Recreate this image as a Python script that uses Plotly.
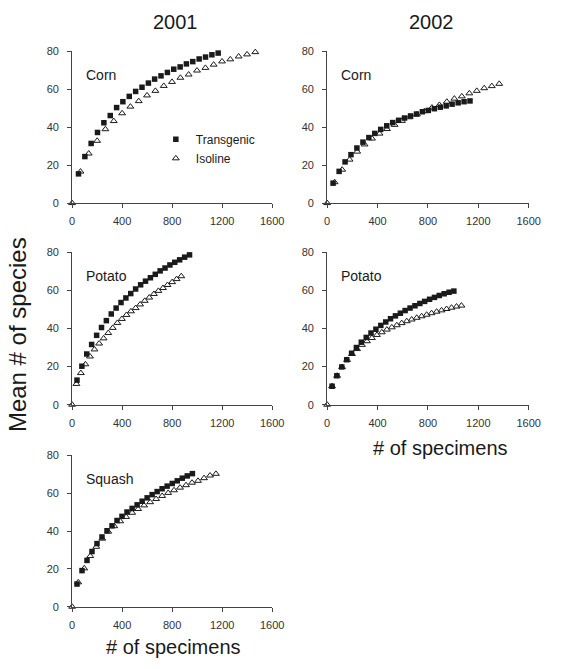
import plotly.graph_objects as go

# Species accumulation (rarefaction) curves: mean # of species vs # of specimens
# 2001: corn, potato, squash ; 2002: corn, potato

# --- 2001 Corn ---
corn01_tg_x = [51, 102, 152, 203, 254, 305, 356, 406, 457, 508, 559, 610, 660, 711,
               762, 813, 864, 914, 965, 1016, 1067, 1118, 1168, 1219]
corn01_tg_y = [15.4, 24.5, 31.4, 37.2, 42.3, 46.1, 50.3, 53.4, 56.2, 58.8, 61.0, 63.2,
               65.3, 67.0, 68.8, 70.5, 71.7, 73.3, 74.5, 75.9, 76.9, 78.1, 79.0, 80.2]
corn01_iso_x = [0, 67, 133, 200, 266, 333, 400, 466, 533, 599, 666, 733, 799, 866, 932,
                999, 1066, 1132, 1199, 1265, 1332, 1399, 1465]
corn01_iso_y = [0, 16.6, 26.1, 32.8, 38.9, 43.2, 47.3, 50.8, 53.7, 56.7, 59.1, 61.7, 63.8,
                66.0, 67.7, 69.8, 71.2, 72.9, 74.6, 75.7, 77.2, 78.3, 79.5]

# --- 2002 Corn ---
corn02_tg_x = [47, 95, 142, 189, 236, 284, 331, 378, 425, 473, 520, 567, 614, 662, 709,
               756, 803, 851, 898, 945, 992, 1040, 1087, 1134]
corn02_tg_y = [10.5, 16.7, 21.7, 25.5, 29.0, 32.1, 34.5, 36.7, 38.8, 40.7, 42.4, 43.6,
               44.8, 45.9, 46.9, 48.1, 48.8, 49.7, 50.5, 51.2, 52.1, 52.8, 53.4, 53.8]
corn02_iso_x = [0, 59, 119, 178, 238, 297, 356, 416, 475, 535, 594, 653, 713, 772, 832,
                891, 950, 1010, 1069, 1129, 1188, 1247, 1307, 1366]
corn02_iso_y = [0, 11.0, 17.6, 22.9, 27.1, 30.9, 34.0, 36.6, 39.0, 41.2, 43.3, 45.2, 46.7,
                48.4, 50.3, 51.7, 53.4, 55.0, 56.2, 57.8, 59.1, 60.5, 61.6, 62.8]

# --- 2001 Potato ---
pot01_tg_x = [39, 78, 117, 156, 196, 235, 274, 313, 352, 391, 430, 469, 508, 548, 587,
              626, 665, 704, 743, 782, 821, 860, 900, 939]
pot01_tg_y = [12.9, 20.2, 26.6, 31.6, 36.4, 40.5, 44.1, 47.6, 50.7, 53.6, 56.0, 58.3,
              60.7, 62.9, 64.8, 66.6, 68.4, 70.2, 71.7, 73.3, 74.7, 76.0, 77.4, 78.6]
pot01_iso_x = [0, 34, 70, 106, 143, 179, 216, 252, 289, 325, 362, 398, 435, 471, 508,
               544, 581, 617, 654, 690, 727, 763, 800, 836, 873]
pot01_iso_y = [0, 10.9, 16.6, 21.2, 25.3, 29.0, 32.1, 34.8, 37.6, 40.3, 42.9, 45.0, 47.1,
               49.0, 50.7, 52.6, 54.5, 56.2, 58.1, 59.7, 61.2, 62.8, 64.3, 65.9, 67.4]

# --- 2002 Potato ---
pot02_tg_x = [39, 77, 116, 155, 194, 232, 271, 310, 348, 387, 426, 465, 503, 542, 581,
              619, 658, 697, 736, 774, 813, 852, 890, 929, 968, 1006]
pot02_tg_y = [9.7, 15.2, 19.8, 23.6, 27.0, 30.0, 32.8, 35.3, 37.6, 39.6, 41.6, 43.4, 45.1,
              46.6, 48.0, 49.4, 50.7, 51.9, 53.1, 54.2, 55.3, 56.3, 57.3, 58.2, 59.0, 59.6]
pot02_iso_x = [0, 39, 79, 118, 158, 197, 237, 276, 316, 355, 395, 434, 474, 513, 553,
               592, 632, 671, 711, 750, 790, 829, 869, 908, 948, 987, 1027, 1066]
pot02_iso_y = [0, 9.7, 15.2, 19.8, 23.5, 26.6, 29.2, 31.4, 33.3, 35.0, 36.6, 38.0, 39.4,
               40.6, 41.7, 42.8, 43.8, 44.7, 45.6, 46.4, 47.2, 48.0, 48.8, 49.5, 50.2,
               50.9, 51.5, 52.0]

# --- 2001 Squash ---
sq01_tg_x = [39, 79, 119, 159, 199, 239, 279, 319, 359, 399, 439, 480, 520, 560, 600,
             640, 680, 720, 760, 801, 841, 881, 921, 962]
sq01_tg_y = [12.0, 19.1, 24.5, 29.2, 33.4, 36.9, 40.2, 42.8, 45.6, 47.8, 50.1, 52.0, 53.9,
             55.8, 57.6, 59.3, 60.9, 62.4, 63.8, 65.2, 66.6, 68.0, 69.2, 70.4]
sq01_iso_x = [0, 49, 97, 145, 193, 241, 289, 337, 385, 432, 480, 528, 576, 624, 672, 720,
              768, 815, 863, 911, 959, 1007, 1055, 1103, 1150]
sq01_iso_y = [0, 12.9, 20.3, 26.8, 31.7, 36.0, 39.7, 42.6, 45.2, 47.5, 49.7, 51.7, 53.6,
              55.3, 57.0, 58.6, 60.2, 61.6, 63.0, 64.3, 65.6, 66.6, 68.0, 69.4, 70.3]

x_ticks = [0, 400, 800, 1200, 1600]
y_ticks = [0, 20, 40, 60, 80]

W, H = 566, 669
FONT = "Arial, Liberation Sans, sans-serif"
INK = "#1a1a1a"
AXIS = "#444444"

# panel: (axis suffix, left px, right px, top px, bottom px, label, tg, iso)
panels = [
    ("", 71, 276.5, 46, 200.7, "Corn", (corn01_tg_x, corn01_tg_y), (corn01_iso_x, corn01_iso_y)),
    ("2", 333, 540, 46, 200.7, "Corn", (corn02_tg_x, corn02_tg_y), (corn02_iso_x, corn02_iso_y)),
    ("3", 71, 276.5, 250.7, 406, "Potato", (pot01_tg_x, pot01_tg_y), (pot01_iso_x, pot01_iso_y)),
    ("4", 333, 540, 250.7, 406, "Potato", (pot02_tg_x, pot02_tg_y), (pot02_iso_x, pot02_iso_y)),
    ("5", 71, 276.5, 457.7, 611.7, "Squash", (sq01_tg_x, sq01_tg_y), (sq01_iso_x, sq01_iso_y)),
]

fig = go.Figure()
layout = dict(
    width=W, height=H,
    margin=dict(l=0, r=0, t=0, b=0),
    paper_bgcolor="white", plot_bgcolor="white",
    font=dict(family=FONT, color=INK),
    annotations=[],
)

axis_common = dict(
    showline=True, linecolor=AXIS, linewidth=1,
    ticks="outside", ticklen=4, tickcolor=AXIS, tickwidth=1,
    showgrid=False, zeroline=False,
    tickfont=dict(family=FONT, size=11, color="#333333"),
)

for i, (sfx, l, r, t, b, label, tg, iso) in enumerate(panels):
    xa = "x" + sfx
    ya = "y" + sfx
    layout["xaxis" + sfx] = dict(
        axis_common, domain=[l / W, r / W], range=[0, 1600],
        tickvals=x_ticks, anchor=ya, ticklabelstandoff=4,
    )
    layout["yaxis" + sfx] = dict(
        axis_common, domain=[1 - b / H, 1 - t / H], range=[0, 80],
        tickvals=y_ticks, anchor=xa, ticklabelstandoff=6,
    )
    fig.add_trace(go.Scatter(
        x=tg[0], y=tg[1], xaxis=xa, yaxis=ya, mode="markers",
        name="Transgenic", legendgroup="tg", showlegend=(i == 0),
        marker=dict(symbol="square", size=5.5, color=INK, line=dict(width=0)),
        cliponaxis=False,
    ))
    fig.add_trace(go.Scatter(
        x=iso[0], y=iso[1], xaxis=xa, yaxis=ya, mode="markers",
        name="Isoline", legendgroup="iso", showlegend=(i == 0),
        marker=dict(symbol="triangle-up-open", size=6, color=INK,
                    line=dict(width=1, color=INK)),
        cliponaxis=False,
    ))
    layout["annotations"].append(dict(
        text=label, xref="paper", yref="paper",
        x=(l + 12) / W, y=1 - (t + 24) / H,
        xanchor="left", yanchor="middle", showarrow=False,
        font=dict(size=14, family=FONT, color=INK),
    ))

# column headers and axis titles
for txt, xpx, ypx, size, angle in [
    ("2001", 177, 16.5, 20, 0),
    ("2002", 440, 16.5, 20, 0),
    ("Mean # of species", 15, 334.5, 24, -90),
    ("# of specimens", 449, 450, 20, 0),
    ("# of specimens", 175, 653, 20, 0),
]:
    layout["annotations"].append(dict(
        text=txt, xref="paper", yref="paper", x=xpx / W, y=1 - ypx / H,
        xanchor="center", yanchor="middle", showarrow=False, textangle=angle,
        font=dict(size=size, family=FONT, color=INK),
    ))

layout["legend"] = dict(
    x=157 / W, y=1 - 121 / H, xanchor="left", yanchor="top",
    bgcolor="rgba(0,0,0,0)", borderwidth=0,
    font=dict(size=12, family=FONT, color=INK),
    itemwidth=30, tracegroupgap=0,
)
layout["showlegend"] = True

fig.update_layout(layout)
fig.write_html("out.html")
